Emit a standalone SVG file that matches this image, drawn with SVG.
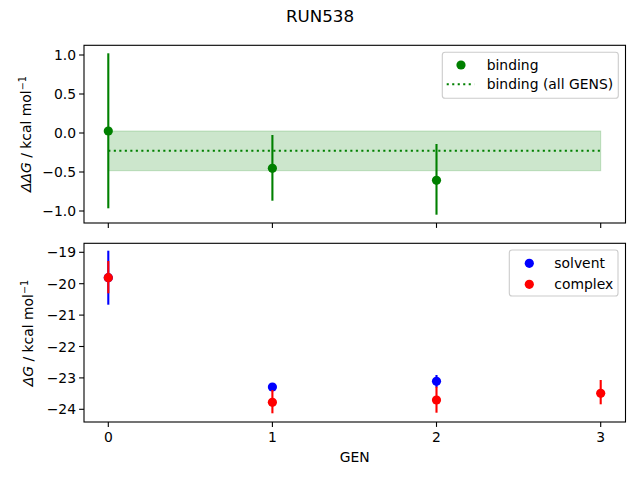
<svg xmlns="http://www.w3.org/2000/svg" width="640" height="480" viewBox="0 0 640 480">
<style>
text{font-family:"DejaVu Sans","Liberation Sans",sans-serif;font-size:13.9px;fill:#000}
.title{font-size:16.7px}
.tl{text-anchor:end}
.tc{text-anchor:middle}
.spine{fill:none;stroke:#000;stroke-width:1.1}
.tick{stroke:#000;stroke-width:1.1}
.eg{stroke:#008000;stroke-width:2.1}
.eb{stroke:#0000ff;stroke-width:2.1}
.er{stroke:#ff0000;stroke-width:2.1}
.leg{fill:#fff;fill-opacity:0.8;stroke:#cccccc;stroke-width:1.1}
circle{r:4.6px}
</style>
<rect width="640" height="480" fill="#fff"/>
<text class="title tc" x="320" y="22">RUN538</text>

<g id="top-axes">
<rect x="108.3" y="131" width="492.4" height="39.7" fill="#008000" fill-opacity="0.2" stroke="#008000" stroke-opacity="0.2" stroke-width="1"/>
<line x1="108.3" y1="150.7" x2="600.7" y2="150.7" stroke="#008000" stroke-width="2.1" stroke-dasharray="2.1,3.4"/>
<g id="binding-points">
<line class="eg" x1="108.3" y1="53.3" x2="108.3" y2="208.3"/>
<circle cx="108.3" cy="131" r="4.6" fill="#008000"/>
<line class="eg" x1="272.4" y1="135" x2="272.4" y2="200.7"/>
<circle cx="272.4" cy="168.3" r="4.6" fill="#008000"/>
<line class="eg" x1="436.5" y1="144" x2="436.5" y2="214.7"/>
<circle cx="436.5" cy="180.3" r="4.6" fill="#008000"/>
</g>
<rect class="spine" x="84" y="45.3" width="541.5" height="177.7"/>
<g id="top-yticks">
<line class="tick" x1="79.1" y1="55" x2="84" y2="55"/>
<line class="tick" x1="79.1" y1="94" x2="84" y2="94"/>
<line class="tick" x1="79.1" y1="133" x2="84" y2="133"/>
<line class="tick" x1="79.1" y1="172" x2="84" y2="172"/>
<line class="tick" x1="79.1" y1="211" x2="84" y2="211"/>
<text class="tl" x="76" y="60">1.0</text>
<text class="tl" x="76" y="99">0.5</text>
<text class="tl" x="76" y="138">0.0</text>
<text class="tl" x="76" y="177">−0.5</text>
<text class="tl" x="76" y="216">−1.0</text>
</g>
<g id="top-xticks">
<line class="tick" x1="108.3" y1="223" x2="108.3" y2="227.9"/>
<line class="tick" x1="272.4" y1="223" x2="272.4" y2="227.9"/>
<line class="tick" x1="436.5" y1="223" x2="436.5" y2="227.9"/>
<line class="tick" x1="600.7" y1="223" x2="600.7" y2="227.9"/>
</g>
<text class="tc" transform="translate(30.5,134) rotate(-90)"><tspan font-style="italic">ΔΔG</tspan> / kcal mol<tspan font-size="9.7px" dy="-5">−1</tspan></text>
<g id="top-legend">
<rect class="leg" x="442.3" y="52.3" width="176" height="46" rx="2.8"/>
<circle cx="461" cy="65" r="4.6" fill="#008000"/>
<line x1="446.7" y1="84.3" x2="474.3" y2="84.3" stroke="#008000" stroke-width="2.1" stroke-dasharray="2.1,3.4"/>
<text x="486.7" y="70">binding</text>
<text x="486.7" y="89.3">binding (all GENS)</text>
</g>
</g>

<g id="bottom-axes">
<g id="solvent-points">
<line class="eb" x1="108.3" y1="250.7" x2="108.3" y2="304.7"/>
<circle cx="108.3" cy="277.7" r="4.6" fill="#0000ff"/>
<line class="eb" x1="272.4" y1="384" x2="272.4" y2="390"/>
<circle cx="272.4" cy="387" r="4.6" fill="#0000ff"/>
<line class="eb" x1="436.5" y1="375" x2="436.5" y2="387.5"/>
<circle cx="436.5" cy="381.3" r="4.6" fill="#0000ff"/>
</g>
<g id="complex-points">
<line class="er" x1="108.3" y1="261" x2="108.3" y2="293.3"/>
<circle cx="108.3" cy="277.7" r="4.6" fill="#ff0000"/>
<line class="er" x1="272.4" y1="390" x2="272.4" y2="413.3"/>
<circle cx="272.4" cy="402.3" r="4.6" fill="#ff0000"/>
<line class="er" x1="436.5" y1="386.7" x2="436.5" y2="412.7"/>
<circle cx="436.5" cy="400" r="4.6" fill="#ff0000"/>
<line class="er" x1="600.7" y1="380" x2="600.7" y2="404.3"/>
<circle cx="600.7" cy="393.3" r="4.6" fill="#ff0000"/>
</g>
<rect class="spine" x="84" y="243.3" width="541.5" height="178.7"/>
<g id="bottom-yticks">
<line class="tick" x1="79.1" y1="252.3" x2="84" y2="252.3"/>
<line class="tick" x1="79.1" y1="283.7" x2="84" y2="283.7"/>
<line class="tick" x1="79.1" y1="315.1" x2="84" y2="315.1"/>
<line class="tick" x1="79.1" y1="346.5" x2="84" y2="346.5"/>
<line class="tick" x1="79.1" y1="377.9" x2="84" y2="377.9"/>
<line class="tick" x1="79.1" y1="409.3" x2="84" y2="409.3"/>
<text class="tl" x="76" y="257.3">−19</text>
<text class="tl" x="76" y="288.7">−20</text>
<text class="tl" x="76" y="320.1">−21</text>
<text class="tl" x="76" y="351.5">−22</text>
<text class="tl" x="76" y="382.9">−23</text>
<text class="tl" x="76" y="414.3">−24</text>
</g>
<g id="bottom-xticks">
<line class="tick" x1="108.3" y1="422" x2="108.3" y2="426.9"/>
<line class="tick" x1="272.4" y1="422" x2="272.4" y2="426.9"/>
<line class="tick" x1="436.5" y1="422" x2="436.5" y2="426.9"/>
<line class="tick" x1="600.7" y1="422" x2="600.7" y2="426.9"/>
<text class="tc" x="108.3" y="442">0</text>
<text class="tc" x="272.4" y="442">1</text>
<text class="tc" x="436.5" y="442">2</text>
<text class="tc" x="600.7" y="442">3</text>
</g>
<text class="tc" x="354.8" y="462">GEN</text>
<text class="tc" transform="translate(33,333) rotate(-90)"><tspan font-style="italic">ΔG</tspan> / kcal mol<tspan font-size="9.7px" dy="-5">−1</tspan></text>
<g id="bottom-legend">
<rect class="leg" x="509.3" y="250" width="108.7" height="46" rx="2.8"/>
<circle cx="529.3" cy="263.3" r="4.6" fill="#0000ff"/>
<circle cx="529.3" cy="284.3" r="4.6" fill="#ff0000"/>
<text x="554.3" y="268.3">solvent</text>
<text x="554.3" y="289.3">complex</text>
</g>
</g>
</svg>
